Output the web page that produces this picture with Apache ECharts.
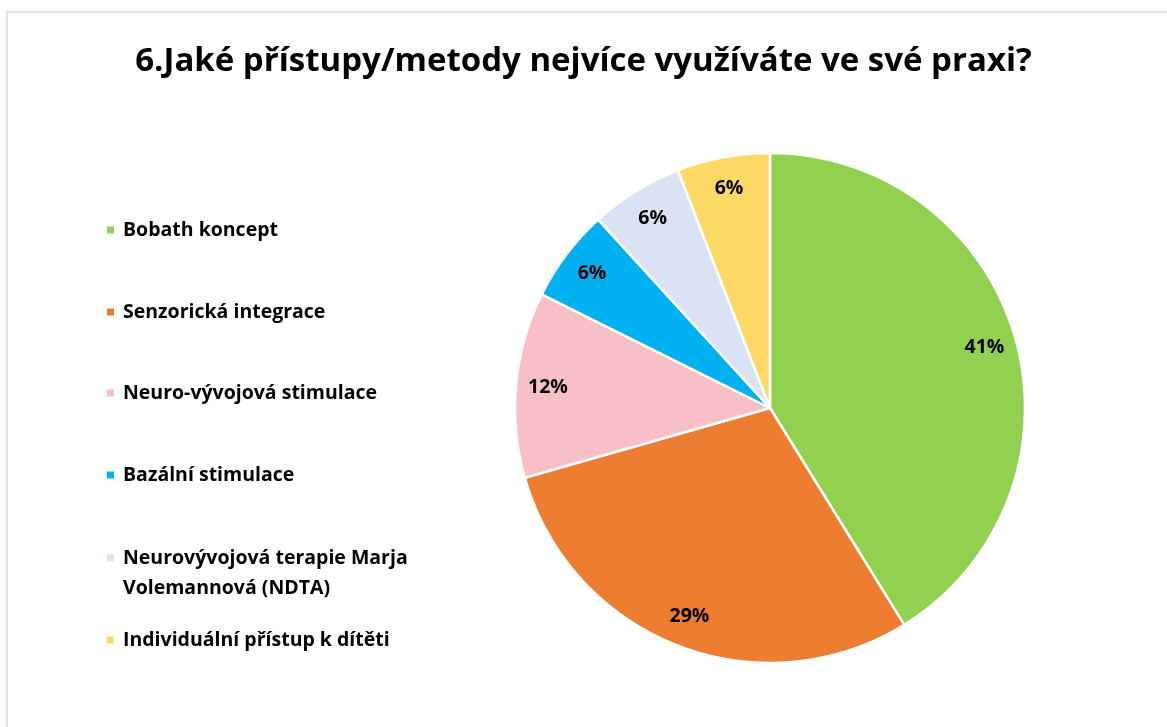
<!DOCTYPE html>
<html>
<head>
<meta charset="utf-8">
<script src="https://cdn.jsdelivr.net/npm/echarts@6/dist/echarts.min.js"></script>
<style>
  html, body { margin: 0; padding: 0; background: #fff; }
  #chart { width: 1167px; height: 727px; }
</style>
</head>
<body>
<div id="chart"></div>
<script>
var titleText = '6.Jaké přístupy/metody nejvíce využíváte ve své praxi?';
var categories = [
    'Bobath koncept',
    'Senzorická integrace',
    'Neuro-vývojová stimulace',
    'Bazální stimulace',
    'Neurovývojová terapie Marja\nVolemannová (NDTA)',
    'Individuální přístup k dítěti'
];
// odpovědi (počet), zobrazeno jako procenta
var counts = [7, 5, 2, 1, 1, 1];
var colors = ['#92D050', '#ED7D31', '#F8BFC6', '#00B0F0', '#DAE3F3', '#FFD966'];

var fontName = 'Open Sans';
var legendCenters = [230, 312, 393, 475, 572, 640];

var data = categories.map(function (c, i) {
    return { name: c, value: counts[i], itemStyle: { color: colors[i] } };
});

var legends = categories.map(function (c, i) {
    var two = c.indexOf('\n') >= 0;
    var lh = two ? 30 : 24;
    var h = two ? 60 : 24;
    return {
        orient: 'vertical',
        left: 105,
        top: legendCenters[i] - h / 2,
        padding: 0,
        itemWidth: 9,
        itemHeight: two ? 60 : 9,
        icon: two ? 'path://M0,0h0.05v0.05h-0.05z M0,10.5h9v9h-9z M0,59.95h0.05v0.05h-0.05z' : 'rect',
        selectedMode: false,
        data: [c],
        textStyle: {
            fontFamily: fontName, fontWeight: 'bold', fontSize: 19.5,
            color: '#000', lineHeight: lh, padding: [0, 0, 0, 3]
        }
    };
});

var chart = echarts.init(document.getElementById('chart'));
chart.setOption({
    animation: false,
    title: {
        text: titleText,
        left: 'center',
        top: 40,
        textStyle: { fontFamily: fontName, fontWeight: 'bold', fontSize: 33, color: '#000' }
    },
    graphic: [{
        type: 'rect',
        shape: { x: 7, y: 12, width: 1300, height: 900 },
        style: { fill: 'none', stroke: '#d9d9d9', lineWidth: 1.5 },
        silent: true
    }],
    legend: legends,
    series: [{
        type: 'pie',
        center: [770, 408],
        radius: 255,
        startAngle: 90,
        clockwise: true,
        data: data,
        label: { show: false },
        labelLine: { show: false },
        itemStyle: { borderColor: '#fff', borderWidth: 2.5 },
        emphasis: { disabled: true }
    }, {
        // jen pro umístění popisků
        type: 'pie',
        center: [770, 408],
        radius: [190, 250],
        startAngle: 90,
        clockwise: true,
        silent: true,
        data: data.map(function (d) {
            return { name: d.name, value: d.value, itemStyle: { color: 'rgba(0,0,0,0)' } };
        }),
        label: {
            show: true,
            position: 'inside',
            formatter: function (p) { return Math.round(p.percent) + '%'; },
            fontFamily: fontName, fontWeight: 'bold', fontSize: 19.5, color: '#000'
        },
        labelLine: { show: false },
        emphasis: { disabled: true }
    }]
});
</script>
</body>
</html>
